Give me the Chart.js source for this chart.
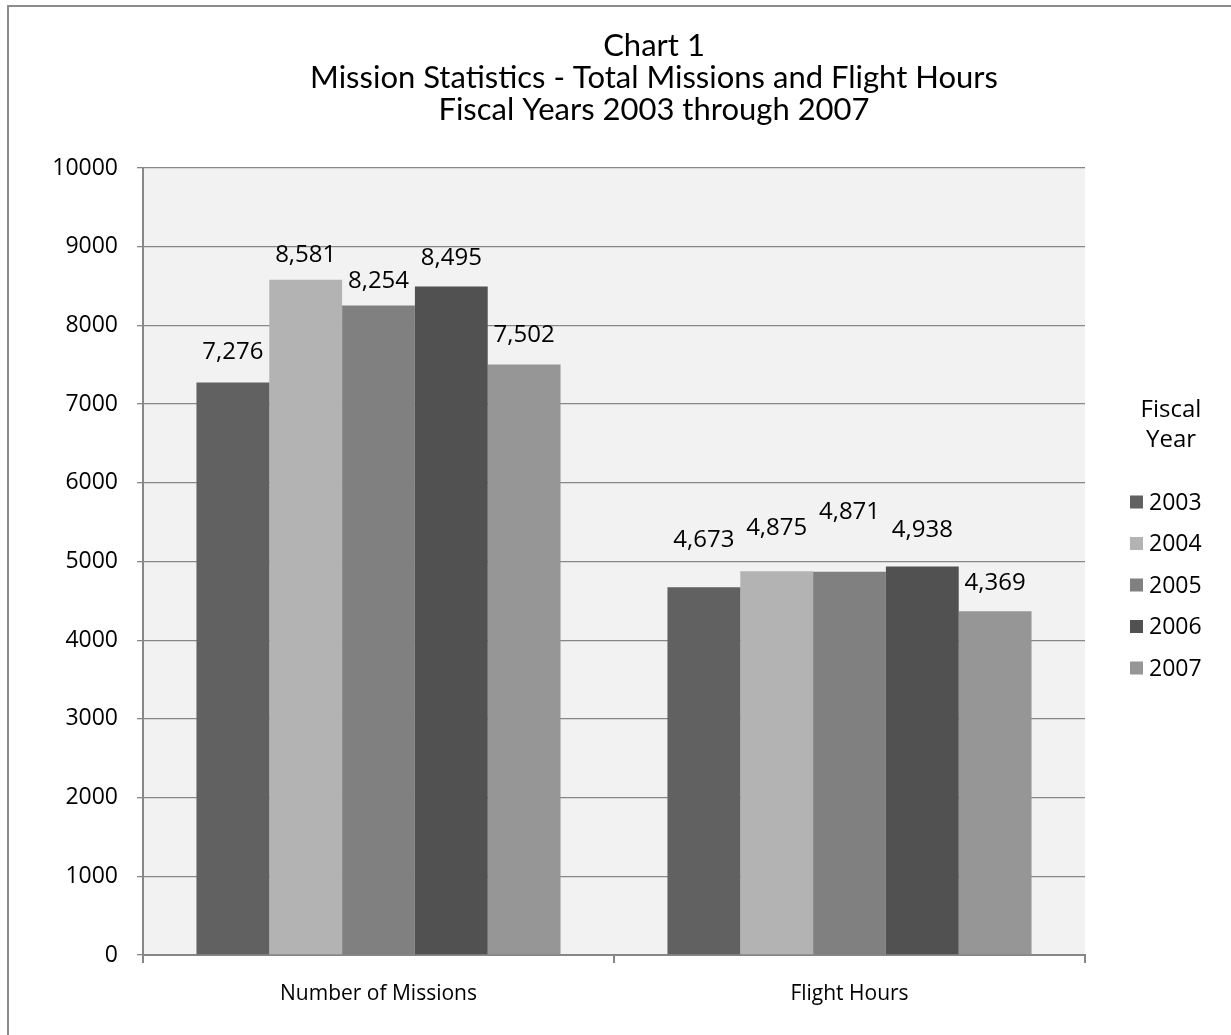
<!DOCTYPE html>
<html>
<head>
<meta charset="utf-8">
<title>Mission Statistics</title>
<script src="https://cdn.jsdelivr.net/npm/chart.js@4/dist/chart.umd.min.js"></script>
<style>
  html, body { margin: 0; padding: 0; background: #fff; overflow: hidden; }
  #frame {
    position: absolute; left: 7px; top: 5px; width: 1400px; height: 1200px;
    border-left: 2px solid #8c8c8c; border-top: 2px solid #8c8c8c;
  }
  #wrap { position: absolute; left: 0; top: 0; width: 1231px; height: 1035px; }
</style>
</head>
<body>
<div id="frame"></div>
<div id="wrap"><canvas id="chart" width="1231" height="1035"></canvas></div>
<script>
// Categories and per-year series
const categories = ['Number of Missions', 'Flight Hours'];
const years = ['2003', '2004', '2005', '2006', '2007'];
const fy2003 = [7276, 4673];
const fy2004 = [8581, 4875];
const fy2005 = [8254, 4871];
const fy2006 = [8495, 4938];
const fy2007 = [7502, 4369];
const yTicks = [0, 1000, 2000, 3000, 4000, 5000, 6000, 7000, 8000, 9000, 10000];

const seriesValues = [fy2003, fy2004, fy2005, fy2006, fy2007];
const seriesColors = ['#616161', '#b3b3b3', '#808080', '#515151', '#969696'];

const TEXT_FONT = '"Open Sans", "Liberation Sans", sans-serif';
const TITLE_FONT = 'Lato, "Open Sans", sans-serif';
const AXIS_GRAY = '#878787';

// Light grey fill behind the plot area
const plotBackground = {
  id: 'plotBackground',
  beforeDraw(chart) {
    const { ctx, chartArea: a } = chart;
    ctx.save();
    ctx.fillStyle = '#f2f2f2';
    ctx.fillRect(a.left, a.top, a.right - a.left, a.bottom - a.top);
    ctx.restore();
  }
};

// Centre the title over the span between the value axis labels and the right edge
const titleSpan = {
  id: 'titleSpan',
  afterLayout(chart, args, opts) {
    const t = chart.titleBlock;
    if (t) { t.left = opts.left; t.right = opts.right; }
  }
};

// Value labels printed above each bar
const valueLabels = {
  id: 'valueLabels',
  afterDatasetsDraw(chart, args, opts) {
    const { ctx } = chart;
    ctx.save();
    ctx.font = '24px ' + TEXT_FONT;
    ctx.fillStyle = '#000';
    ctx.textAlign = 'center';
    ctx.textBaseline = 'middle';
    chart.data.datasets.forEach((ds, di) => {
      const meta = chart.getDatasetMeta(di);
      meta.data.forEach((bar, i) => {
        const lift = opts.gap + ((opts.nudge[di] || [])[i] || 0);
        ctx.fillText(ds.data[i].toLocaleString('en-US'), bar.x, bar.y - lift);
      });
    });
    ctx.restore();
  }
};

// Legend on the right with a two-line heading
const sideLegend = {
  id: 'sideLegend',
  afterDraw(chart, args, opts) {
    const { ctx } = chart;
    ctx.save();
    ctx.fillStyle = '#000';
    ctx.font = '24px ' + TEXT_FONT;
    ctx.textAlign = 'center';
    ctx.textBaseline = 'middle';
    opts.heading.forEach((line, i) => ctx.fillText(line, opts.x + 41, opts.headingY + i * 30));
    ctx.font = '23px ' + TEXT_FONT;
    ctx.textAlign = 'left';
    chart.data.datasets.forEach((ds, i) => {
      const y = opts.itemY + i * opts.step;
      ctx.fillStyle = ds.backgroundColor;
      ctx.fillRect(opts.x, y - 6.5, 13, 13);
      ctx.fillStyle = '#000';
      ctx.fillText(ds.label, opts.x + 19, y + 1);
    });
    ctx.restore();
  }
};

new Chart(document.getElementById('chart'), {
  type: 'bar',
  data: {
    labels: categories,
    datasets: years.map((y, i) => ({
      label: y,
      data: seriesValues[i],
      backgroundColor: seriesColors[i],
      borderWidth: 0,
      categoryPercentage: 0.773,
      barPercentage: 1.0
    }))
  },
  options: {
    responsive: false,
    animation: false,
    layout: { padding: { left: 0, right: 0, top: 0, bottom: 0 } },
    plugins: {
      legend: { display: false },
      tooltip: { enabled: false },
      title: {
        display: true,
        text: ['Chart 1', 'Mission Statistics - Total Missions and Flight Hours', 'Fiscal Years 2003 through 2007'],
        color: '#000',
        font: { family: TITLE_FONT, size: 31, weight: 'normal', lineHeight: 32 / 31 },
        padding: { top: 30, bottom: 42 }
      },
      titleSpan: { left: 77, right: 1231 },
      valueLabels: {
        gap: 27,
        nudge: [[3, 20], [-2, 16], [-3, 32], [1, 9], [2, 1]]
      },
      sideLegend: {
        heading: ['Fiscal', 'Year'],
        x: 1130, headingY: 410, itemY: 502, step: 41.5
      }
    },
    scales: {
      x: {
        grid: { drawOnChartArea: false, drawTicks: true, tickLength: 8, color: AXIS_GRAY, lineWidth: 2, offset: true },
        border: { display: true, color: AXIS_GRAY, width: 2 },
        ticks: { color: '#000', font: { family: TEXT_FONT, size: 21 }, padding: 18 },
        afterFit(scale) { scale.height = 80; }
      },
      y: {
        min: 0,
        max: 10000,
        afterBuildTicks(scale) { scale.ticks = yTicks.map(v => ({ value: v })); },
        grid: { color: AXIS_GRAY, lineWidth: 1.3, tickLength: 6 },
        border: { display: true, color: AXIS_GRAY, width: 2 },
        ticks: {
          color: '#000',
          font: { family: TEXT_FONT, size: 23 },
          padding: 19,
          callback: (v) => String(v)
        },
        afterFit(scale) { scale.width = 143; }
      },
      // empty right-hand column that reserves room for the legend
      legendSpace: {
        type: 'linear',
        position: 'right',
        display: true,
        grid: { display: false, drawOnChartArea: false, drawTicks: false },
        border: { display: false },
        ticks: { display: false },
        afterFit(scale) { scale.width = 1231 - 1085; }
      }
    }
  },
  plugins: [plotBackground, titleSpan, valueLabels, sideLegend]
});
</script>
</body>
</html>
